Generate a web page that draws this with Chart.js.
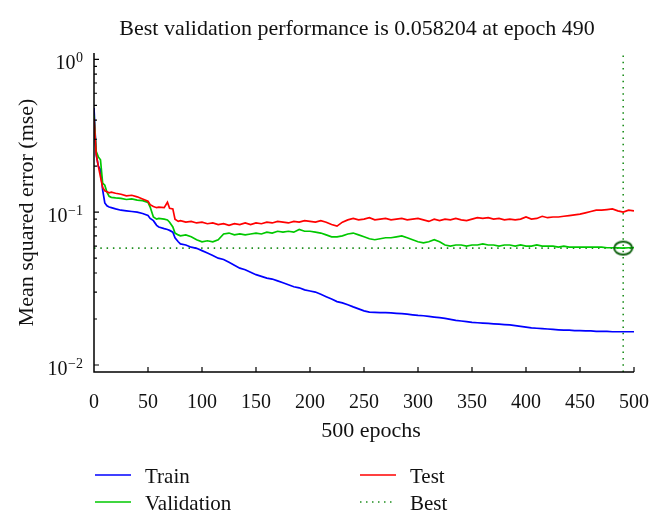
<!DOCTYPE html>
<html>
<head>
<meta charset="utf-8">
<script src="https://cdn.jsdelivr.net/npm/chart.js@4/dist/chart.umd.min.js"></script>
<style>
    body { margin: 0; background: #fff; }
    #wrap { width: 660px; height: 523px; }
</style>
</head>
<body>
<div id="wrap"><canvas id="perfChart" width="660" height="523"></canvas></div>
<script>
// epochs (denser where the curves drop fast)
var epochs = [
    0, 2, 4, 6, 8, 10, 12, 14, 16, 20,
    25, 30, 35, 40, 45, 50, 52, 55, 58, 60,
    65, 68, 70, 73, 75, 78, 80, 85, 90, 95,
    100, 105, 110, 115, 120, 125, 130, 135, 140, 145,
    150, 155, 160, 165, 170, 175, 180, 185, 190, 195,
    200, 205, 210, 215, 220, 225, 230, 235, 240, 245,
    250, 255, 260, 265, 270, 275, 280, 285, 290, 295,
    300, 305, 310, 315, 320, 325, 330, 335, 340, 345,
    350, 355, 360, 365, 370, 375, 380, 385, 390, 395,
    400, 405, 410, 415, 420, 425, 430, 435, 440, 445,
    450, 455, 460, 465, 470, 475, 480, 485, 490, 495, 500
];

var trainPerf = [
    0.48, 0.24, 0.2, 0.19, 0.14, 0.115, 0.11, 0.108, 0.107, 0.105,
    0.103, 0.102, 0.101, 0.1, 0.098, 0.095, 0.091, 0.088, 0.082, 0.08,
    0.078, 0.077, 0.076, 0.074, 0.068, 0.064, 0.062, 0.061, 0.059, 0.058,
    0.056, 0.054, 0.052, 0.05, 0.049, 0.047, 0.045, 0.043, 0.042, 0.0405,
    0.039, 0.038, 0.037, 0.0365, 0.0355, 0.0345, 0.0335, 0.0325, 0.032, 0.031,
    0.0305, 0.03, 0.029, 0.028, 0.027, 0.026, 0.0255, 0.0248, 0.024, 0.0233,
    0.0226, 0.0222, 0.0221, 0.022, 0.022, 0.0219, 0.0218, 0.0217, 0.0215, 0.0213,
    0.0211, 0.021, 0.0208, 0.0206, 0.0204, 0.0202, 0.0199, 0.0196, 0.0194, 0.0192,
    0.019, 0.0189, 0.0188, 0.0187, 0.0186, 0.0185, 0.0184, 0.0183, 0.0181, 0.0179,
    0.0177, 0.0175, 0.0174, 0.0173, 0.0172, 0.0171, 0.017, 0.0169, 0.0169, 0.0168,
    0.0168, 0.0167, 0.0167, 0.0166, 0.0166, 0.0166, 0.0165, 0.0165, 0.0165, 0.0165, 0.0165
];

var valPerf = [
    0.43, 0.25, 0.23, 0.22, 0.155, 0.15, 0.135, 0.127, 0.125, 0.124,
    0.123, 0.121, 0.122, 0.12, 0.119, 0.116, 0.108, 0.093, 0.09, 0.091,
    0.09, 0.089, 0.086, 0.08, 0.073, 0.071, 0.07, 0.071, 0.069, 0.066,
    0.064, 0.065, 0.064, 0.066, 0.072, 0.073, 0.071, 0.072, 0.071, 0.072,
    0.073, 0.072, 0.074, 0.073, 0.075, 0.074, 0.075, 0.074, 0.077, 0.075,
    0.075, 0.074, 0.073, 0.071, 0.069, 0.069, 0.07, 0.072, 0.073, 0.071,
    0.069, 0.067, 0.066, 0.067, 0.068, 0.068, 0.069, 0.07, 0.068, 0.066,
    0.064, 0.063, 0.064, 0.066, 0.064, 0.061, 0.06, 0.061, 0.061, 0.06,
    0.061, 0.061, 0.062, 0.061, 0.061, 0.06, 0.061, 0.061, 0.06, 0.061,
    0.06, 0.06, 0.061, 0.06, 0.06, 0.06, 0.059, 0.06, 0.059, 0.059,
    0.059, 0.059, 0.059, 0.059, 0.059, 0.0585, 0.0585, 0.0584, 0.0582, 0.0585, 0.0586
];

var testPerf = [
    0.41, 0.24, 0.2, 0.17, 0.145, 0.138, 0.136, 0.134, 0.135, 0.133,
    0.131, 0.128, 0.129, 0.126, 0.122, 0.118, 0.112, 0.109, 0.107, 0.108,
    0.107, 0.116, 0.106, 0.105, 0.09, 0.087, 0.088, 0.086, 0.087, 0.085,
    0.086, 0.084, 0.085, 0.083, 0.084, 0.082, 0.084, 0.083, 0.085, 0.083,
    0.085, 0.084, 0.086, 0.085, 0.087, 0.086, 0.085, 0.087, 0.086, 0.088,
    0.087, 0.086, 0.088, 0.086, 0.083, 0.081, 0.086, 0.089, 0.091, 0.089,
    0.09, 0.092, 0.089, 0.09, 0.091, 0.089, 0.09, 0.091, 0.089, 0.09,
    0.091, 0.089, 0.087, 0.09, 0.088, 0.09, 0.089, 0.091, 0.089, 0.088,
    0.09, 0.092, 0.091, 0.092, 0.09, 0.091, 0.089, 0.09, 0.089, 0.09,
    0.093, 0.09, 0.091, 0.094, 0.092, 0.093, 0.093, 0.094, 0.095, 0.096,
    0.097, 0.099, 0.101, 0.103, 0.103, 0.104, 0.105, 0.102, 0.1, 0.103, 0.102
];

var bestEpoch = 490;
var bestPerf = 0.058204;
var yTickValues = [1, 0.1, 0.01];
var yTickPowers = ["0", "\u22121", "\u22122"];
var xMin = 0, xMax = 500;
var yMin = 0.009, yMax = 1.1;

var serif = "'Liberation Serif', 'Times New Roman', serif";

function toPoints(values) {
    return values.map((v, i) => ({ x: epochs[i], y: v }));
}

// little ellipse used as the marker of the best epoch
function ellipseMarker() {
    var c = document.createElement("canvas");
    c.width = 22;
    c.height = 17;
    var g = c.getContext("2d");
    g.strokeStyle = "#0b5e0b";
    g.lineWidth = 2;
    g.beginPath();
    g.ellipse(11, 8.5, 9, 6.5, 0, 0, Math.PI * 2);
    g.stroke();
    return c;
}

// axes with inward ticks, y tick labels with exponents, titles and legend
var decorations = {
    id: "decorations",
    afterDraw(chart) {
        var ctx = chart.ctx;
        var area = chart.chartArea;
        var xs = chart.scales.x;
        var ys = chart.scales.y;
        ctx.save();

        ctx.strokeStyle = "#000";
        ctx.lineWidth = 1.5;
        ctx.beginPath();
        ctx.moveTo(area.left, area.top);
        ctx.lineTo(area.left, area.bottom);
        ctx.lineTo(area.right, area.bottom);
        ctx.stroke();

        ctx.lineWidth = 1.2;
        ctx.beginPath();
        for (let e = 50; e <= xMax; e += 50) {
            let px = xs.getPixelForValue(e);
            ctx.moveTo(px, area.bottom);
            ctx.lineTo(px, area.bottom - 5);
        }
        for (let p = -2; p <= 0; p++) {
            for (let m = 1; m <= 9; m++) {
                let v = m * Math.pow(10, p);
                if (v < yMin || v > yMax) continue;
                let py = ys.getPixelForValue(v);
                ctx.moveTo(area.left, py);
                ctx.lineTo(area.left + (m === 1 ? 5 : 3), py);
            }
        }
        ctx.stroke();

        ctx.fillStyle = "#111";
        ctx.textBaseline = "alphabetic";
        yTickValues.forEach((v, i) => {
            let py = ys.getPixelForValue(v);
            ctx.font = "14px " + serif;
            ctx.textAlign = "right";
            let supW = ctx.measureText(yTickPowers[i]).width;
            ctx.fillText(yTickPowers[i], 83, py + 2.5);
            ctx.font = "20px " + serif;
            ctx.fillText("10", 83 - supW - 0.5, py + 10);
        });

        var cx = (area.left + area.right) / 2;
        ctx.textAlign = "center";
        ctx.font = "22px " + serif;
        ctx.fillText("Best validation performance is " + bestPerf + " at epoch " + bestEpoch, cx - 7, 35);
        ctx.fillText("500 epochs", cx + 7, 437);

        ctx.save();
        ctx.translate(33, (area.top + area.bottom) / 2);
        ctx.rotate(-Math.PI / 2);
        ctx.fillText("Mean squared error (mse)", 0, 0);
        ctx.restore();

        // legend
        var items = [
            { text: "Train", color: "#0000ff", x: 95, y: 475, dash: [] },
            { text: "Validation", color: "#00c800", x: 95, y: 502, dash: [] },
            { text: "Test", color: "#ff0000", x: 360, y: 475, dash: [] },
            { text: "Best", color: "#1f8f1f", x: 360, y: 502, dash: [1.5, 4.5] }
        ];
        ctx.textAlign = "left";
        ctx.font = "21px " + serif;
        items.forEach(it => {
            ctx.strokeStyle = it.color;
            ctx.lineWidth = 1.6;
            ctx.setLineDash(it.dash);
            ctx.beginPath();
            ctx.moveTo(it.x, it.y);
            ctx.lineTo(it.x + 36, it.y);
            ctx.stroke();
            ctx.setLineDash([]);
            ctx.fillText(it.text, it.x + 50, it.y + 8);
        });

        ctx.restore();
    }
};

document.addEventListener("DOMContentLoaded", function () {
    var ctx = document.getElementById("perfChart").getContext("2d");
    new Chart(ctx, {
        type: "line",
        data: {
            datasets: [
                {
                    label: "Test",
                    data: toPoints(testPerf),
                    borderColor: "#ff0000",
                    borderWidth: 1.7,
                    order: 1
                },
                {
                    label: "Validation",
                    data: toPoints(valPerf),
                    borderColor: "#00c800",
                    borderWidth: 1.7,
                    order: 2
                },
                {
                    label: "Train",
                    data: toPoints(trainPerf),
                    borderColor: "#0000ff",
                    borderWidth: 1.7,
                    order: 3
                },
                {
                    label: "Best",
                    data: [{ x: xMin, y: bestPerf }, { x: xMax, y: bestPerf }],
                    borderColor: "#1f8f1f",
                    borderWidth: 1.6,
                    borderDash: [1.5, 4.8],
                    order: 4
                },
                {
                    label: "Best epoch",
                    data: [{ x: bestEpoch, y: yMin }, { x: bestEpoch, y: yMax }],
                    borderColor: "#1f8f1f",
                    borderWidth: 1.6,
                    borderDash: [1.5, 4.8],
                    order: 5
                },
                {
                    label: "Best marker",
                    data: [{ x: bestEpoch, y: bestPerf }],
                    showLine: false,
                    pointStyle: ellipseMarker(),
                    pointRadius: 9,
                    order: 0
                }
            ]
        },
        options: {
            responsive: false,
            animation: false,
            events: [],
            elements: {
                point: { radius: 0 },
                line: { tension: 0, fill: false }
            },
            layout: {
                padding: { top: 53, right: 25, bottom: 0, left: 0 }
            },
            plugins: {
                legend: { display: false },
                title: { display: false },
                tooltip: { enabled: false }
            },
            scales: {
                x: {
                    type: "linear",
                    min: xMin,
                    max: xMax,
                    grid: { display: false },
                    border: { display: false },
                    ticks: {
                        stepSize: 50,
                        autoSkip: false,
                        maxRotation: 0,
                        padding: 11,
                        color: "#111",
                        font: { family: serif, size: 20 }
                    },
                    afterFit: scale => { scale.height = 151; }
                },
                y: {
                    type: "logarithmic",
                    min: yMin,
                    max: yMax,
                    grid: { display: false },
                    border: { display: false },
                    ticks: { display: false },
                    afterFit: scale => { scale.width = 94; }
                }
            }
        },
        plugins: [decorations]
    });
});
</script>
</body>
</html>
